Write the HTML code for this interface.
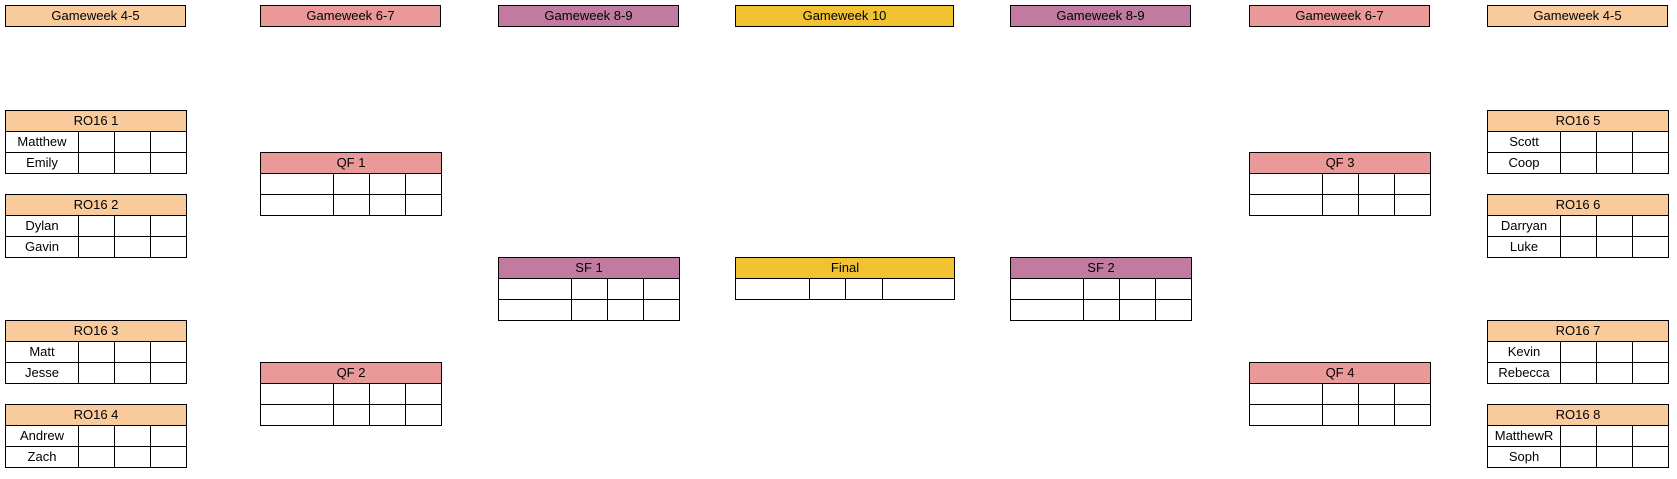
<!DOCTYPE html>
<html><head><style>
body{margin:0;width:1677px;height:479px;background:#fff;position:relative;overflow:hidden;font-family:"Liberation Sans",Arial,sans-serif;font-size:13px;color:#000}
table{position:absolute;border-collapse:collapse;table-layout:fixed}
td{border:1px solid #000;height:20px;padding:0;text-align:center;line-height:20px;overflow:hidden;white-space:nowrap}
.p{background:#f9cb9c}.r{background:#ea9999}.m{background:#c27ba0}.g{background:#f1c232}
</style></head><body>
<table style="left:5px;top:5px;width:181px"><tr><td class="p">Gameweek 4-5</td></tr></table>
<table style="left:260px;top:5px;width:181px"><tr><td class="r">Gameweek 6-7</td></tr></table>
<table style="left:498px;top:5px;width:181px"><tr><td class="m">Gameweek 8-9</td></tr></table>
<table style="left:735px;top:5px;width:219px"><tr><td class="g">Gameweek 10</td></tr></table>
<table style="left:1010px;top:5px;width:181px"><tr><td class="m">Gameweek 8-9</td></tr></table>
<table style="left:1249px;top:5px;width:181px"><tr><td class="r">Gameweek 6-7</td></tr></table>
<table style="left:1487px;top:5px;width:181px"><tr><td class="p">Gameweek 4-5</td></tr></table>

<table style="left:5px;top:110px;width:181px"><colgroup><col style="width:73px"><col style="width:36px"><col style="width:36px"><col style="width:36px"></colgroup><tr><td colspan="4" class="p">RO16 1</td></tr><tr><td>Matthew</td><td></td><td></td><td></td></tr><tr><td>Emily</td><td></td><td></td><td></td></tr></table>
<table style="left:5px;top:194px;width:181px"><colgroup><col style="width:73px"><col style="width:36px"><col style="width:36px"><col style="width:36px"></colgroup><tr><td colspan="4" class="p">RO16 2</td></tr><tr><td>Dylan</td><td></td><td></td><td></td></tr><tr><td>Gavin</td><td></td><td></td><td></td></tr></table>
<table style="left:5px;top:320px;width:181px"><colgroup><col style="width:73px"><col style="width:36px"><col style="width:36px"><col style="width:36px"></colgroup><tr><td colspan="4" class="p">RO16 3</td></tr><tr><td>Matt</td><td></td><td></td><td></td></tr><tr><td>Jesse</td><td></td><td></td><td></td></tr></table>
<table style="left:5px;top:404px;width:181px"><colgroup><col style="width:73px"><col style="width:36px"><col style="width:36px"><col style="width:36px"></colgroup><tr><td colspan="4" class="p">RO16 4</td></tr><tr><td>Andrew</td><td></td><td></td><td></td></tr><tr><td>Zach</td><td></td><td></td><td></td></tr></table>

<table style="left:260px;top:152px;width:181px"><colgroup><col style="width:73px"><col style="width:36px"><col style="width:36px"><col style="width:36px"></colgroup><tr><td colspan="4" class="r">QF 1</td></tr><tr><td></td><td></td><td></td><td></td></tr><tr><td></td><td></td><td></td><td></td></tr></table>
<table style="left:260px;top:362px;width:181px"><colgroup><col style="width:73px"><col style="width:36px"><col style="width:36px"><col style="width:36px"></colgroup><tr><td colspan="4" class="r">QF 2</td></tr><tr><td></td><td></td><td></td><td></td></tr><tr><td></td><td></td><td></td><td></td></tr></table>

<table style="left:498px;top:257px;width:181px"><colgroup><col style="width:73px"><col style="width:36px"><col style="width:36px"><col style="width:36px"></colgroup><tr><td colspan="4" class="m">SF 1</td></tr><tr><td></td><td></td><td></td><td></td></tr><tr><td></td><td></td><td></td><td></td></tr></table>

<table style="left:735px;top:257px;width:219px"><colgroup><col style="width:74px"><col style="width:36px"><col style="width:37px"><col style="width:72px"></colgroup><tr><td colspan="4" class="g">Final</td></tr><tr><td></td><td></td><td></td><td></td></tr></table>

<table style="left:1010px;top:257px;width:181px"><colgroup><col style="width:73px"><col style="width:36px"><col style="width:36px"><col style="width:36px"></colgroup><tr><td colspan="4" class="m">SF 2</td></tr><tr><td></td><td></td><td></td><td></td></tr><tr><td></td><td></td><td></td><td></td></tr></table>

<table style="left:1249px;top:152px;width:181px"><colgroup><col style="width:73px"><col style="width:36px"><col style="width:36px"><col style="width:36px"></colgroup><tr><td colspan="4" class="r">QF 3</td></tr><tr><td></td><td></td><td></td><td></td></tr><tr><td></td><td></td><td></td><td></td></tr></table>
<table style="left:1249px;top:362px;width:181px"><colgroup><col style="width:73px"><col style="width:36px"><col style="width:36px"><col style="width:36px"></colgroup><tr><td colspan="4" class="r">QF 4</td></tr><tr><td></td><td></td><td></td><td></td></tr><tr><td></td><td></td><td></td><td></td></tr></table>

<table style="left:1487px;top:110px;width:181px"><colgroup><col style="width:73px"><col style="width:36px"><col style="width:36px"><col style="width:36px"></colgroup><tr><td colspan="4" class="p">RO16 5</td></tr><tr><td>Scott</td><td></td><td></td><td></td></tr><tr><td>Coop</td><td></td><td></td><td></td></tr></table>
<table style="left:1487px;top:194px;width:181px"><colgroup><col style="width:73px"><col style="width:36px"><col style="width:36px"><col style="width:36px"></colgroup><tr><td colspan="4" class="p">RO16 6</td></tr><tr><td>Darryan</td><td></td><td></td><td></td></tr><tr><td>Luke</td><td></td><td></td><td></td></tr></table>
<table style="left:1487px;top:320px;width:181px"><colgroup><col style="width:73px"><col style="width:36px"><col style="width:36px"><col style="width:36px"></colgroup><tr><td colspan="4" class="p">RO16 7</td></tr><tr><td>Kevin</td><td></td><td></td><td></td></tr><tr><td>Rebecca</td><td></td><td></td><td></td></tr></table>
<table style="left:1487px;top:404px;width:181px"><colgroup><col style="width:73px"><col style="width:36px"><col style="width:36px"><col style="width:36px"></colgroup><tr><td colspan="4" class="p">RO16 8</td></tr><tr><td>MatthewR</td><td></td><td></td><td></td></tr><tr><td>Soph</td><td></td><td></td><td></td></tr></table>
</body></html>
